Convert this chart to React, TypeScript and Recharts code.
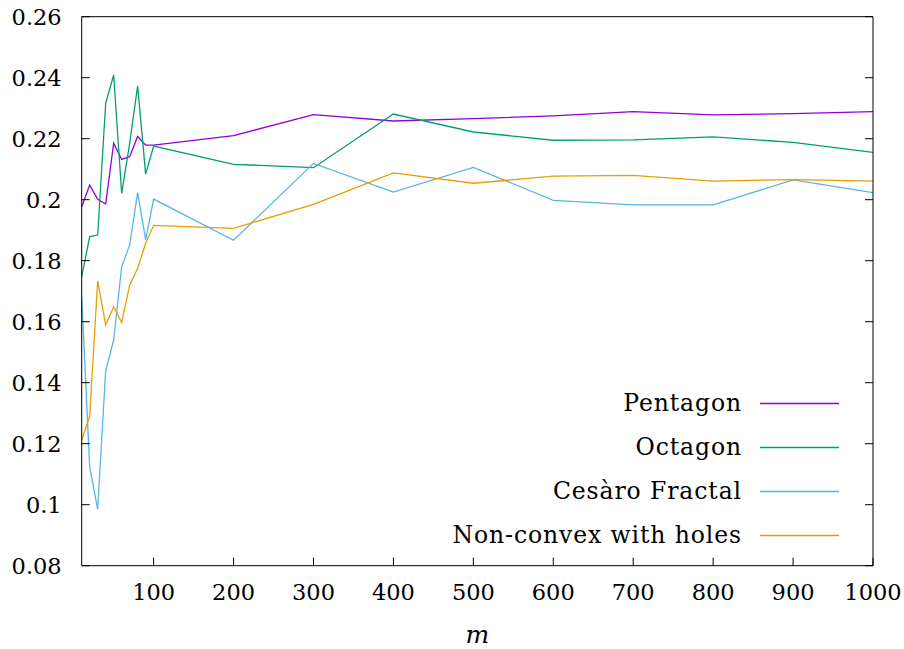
import React from 'react';
import { LineChart, Line, XAxis, YAxis, Legend, Label } from 'recharts';

const mValues = [10, 20, 30, 40, 50, 60, 70, 80, 90, 100, 200, 300, 400, 500, 600, 700, 800, 900, 1000];
const pentagon = [0.1977, 0.2048, 0.2001, 0.1986, 0.2185, 0.2132, 0.2141, 0.2207, 0.2179, 0.2179, 0.221, 0.2279, 0.2258, 0.2266, 0.2275, 0.2289, 0.2278, 0.2282, 0.2289];
const octagon = [0.1748, 0.1879, 0.1884, 0.2316, 0.2409, 0.2021, 0.2185, 0.2373, 0.2084, 0.2176, 0.2116, 0.2105, 0.2281, 0.2222, 0.2195, 0.2196, 0.2206, 0.2188, 0.2155];
const cesaro = [0.1682, 0.1125, 0.0985, 0.1439, 0.154, 0.178, 0.1851, 0.2023, 0.1868, 0.2002, 0.1867, 0.2119, 0.2025, 0.2106, 0.1998, 0.1983, 0.1983, 0.2065, 0.2023];
const nonConvex = [0.1212, 0.1291, 0.1734, 0.1589, 0.1649, 0.1597, 0.172, 0.1775, 0.1857, 0.1916, 0.1906, 0.1985, 0.2088, 0.2054, 0.2077, 0.208, 0.2061, 0.2066, 0.2061];

const xTicks = [100, 200, 300, 400, 500, 600, 700, 800, 900, 1000];
const yTicks = [0.08, 0.1, 0.12, 0.14, 0.16, 0.18, 0.2, 0.22, 0.24, 0.26];

const seriesKeys = ['pentagon', 'octagon', 'cesaro', 'nonConvex'];
const seriesNames = ['Pentagon', 'Octagon', 'Cesàro Fractal', 'Non-convex with holes'];
const seriesColors = ['#9400d3', '#009e73', '#56b4e9', '#e69f00'];

const data = mValues.map((m, i) => ({
  m,
  pentagon: pentagon[i],
  octagon: octagon[i],
  cesaro: cesaro[i],
  nonConvex: nonConvex[i],
}));

const FONT = 'DejaVu Serif';
const W = 904;
const H = 649;

const fmtY = (v: number) => String(Number(v.toFixed(2)));
const blank = () => '';

const tickStyle = { fill: '#000', fontSize: 22.5, fontFamily: FONT };

function MLabel(props: any) {
  const vb = props.viewBox || {};
  return (
    <text
      x={vb.x + vb.width / 2}
      y={vb.y + vb.height - 6}
      textAnchor="middle"
      fontFamily={FONT}
      fontStyle="italic"
      fontSize={25}
      fill="#000"
    >
      m
    </text>
  );
}

function LegendContent() {
  return (
    <svg width={W} height={H} style={{ position: 'absolute', left: 0, top: 0 }}>
      {seriesNames.map((name, i) => {
        const ly = 403.5 + 44 * i;
        return (
          <g key={i}>
            <text
              x={742}
              y={ly + 7.5}
              textAnchor="end"
              fontFamily={FONT}
              fontSize={23.5}
              letterSpacing={0.9}
              fill="#000"
            >
              {name}
            </text>
            <line x1={760} x2={839} y1={ly} y2={ly} stroke={seriesColors[i]} strokeWidth={1.3} />
          </g>
        );
      })}
    </svg>
  );
}

export default function App() {
  return (
    <div style={{ position: 'absolute', left: 0, top: 0, width: W, height: H, background: '#fff' }}>
      <LineChart width={W} height={H} data={data} margin={{ top: 0, right: 0, bottom: 0, left: 0 }}>
        <XAxis
          dataKey="m"
          type="number"
          domain={[10, 1000]}
          allowDataOverflow
          ticks={xTicks}
          height={83.3}
          tickSize={-8}
          tickMargin={26.5}
          tick={tickStyle}
          axisLine={{ stroke: '#000', strokeWidth: 1 }}
          tickLine={{ stroke: '#000', strokeWidth: 1 }}
          interval={0}
        >
          <Label content={<MLabel />} position="insideBottom" />
        </XAxis>
        <XAxis
          xAxisId="top"
          orientation="top"
          type="number"
          domain={[10, 1000]}
          allowDataOverflow
          ticks={xTicks}
          height={16.7}
          tickSize={-8}
          tickFormatter={blank}
          axisLine={{ stroke: '#000', strokeWidth: 1 }}
          tickLine={{ stroke: '#000', strokeWidth: 1 }}
          interval={0}
        />
        <YAxis
          type="number"
          domain={[0.08, 0.26]}
          allowDataOverflow
          ticks={yTicks}
          width={81.7}
          tickSize={-8}
          tickMargin={28}
          tickFormatter={fmtY}
          tick={tickStyle}
          axisLine={{ stroke: '#000', strokeWidth: 1 }}
          tickLine={{ stroke: '#000', strokeWidth: 1 }}
          interval={0}
        />
        <YAxis
          yAxisId="right"
          orientation="right"
          type="number"
          domain={[0.08, 0.26]}
          allowDataOverflow
          ticks={yTicks}
          width={31}
          tickSize={-8}
          tickFormatter={blank}
          axisLine={{ stroke: '#000', strokeWidth: 1 }}
          tickLine={{ stroke: '#000', strokeWidth: 1 }}
          interval={0}
        />
        <Legend
          layout="vertical"
          align="center"
          verticalAlign="middle"
          width={W}
          height={H}
          wrapperStyle={{ left: 0, top: 0, width: W, height: H, pointerEvents: 'none' }}
          content={<LegendContent />}
        />
        {seriesKeys.map((k, i) => (
          <Line
            key={k}
            type="linear"
            dataKey={k}
            name={seriesNames[i]}
            stroke={seriesColors[i]}
            strokeWidth={1.3}
            dot={false}
            activeDot={false}
            isAnimationActive={false}
          />
        ))}
      </LineChart>
    </div>
  );
}
